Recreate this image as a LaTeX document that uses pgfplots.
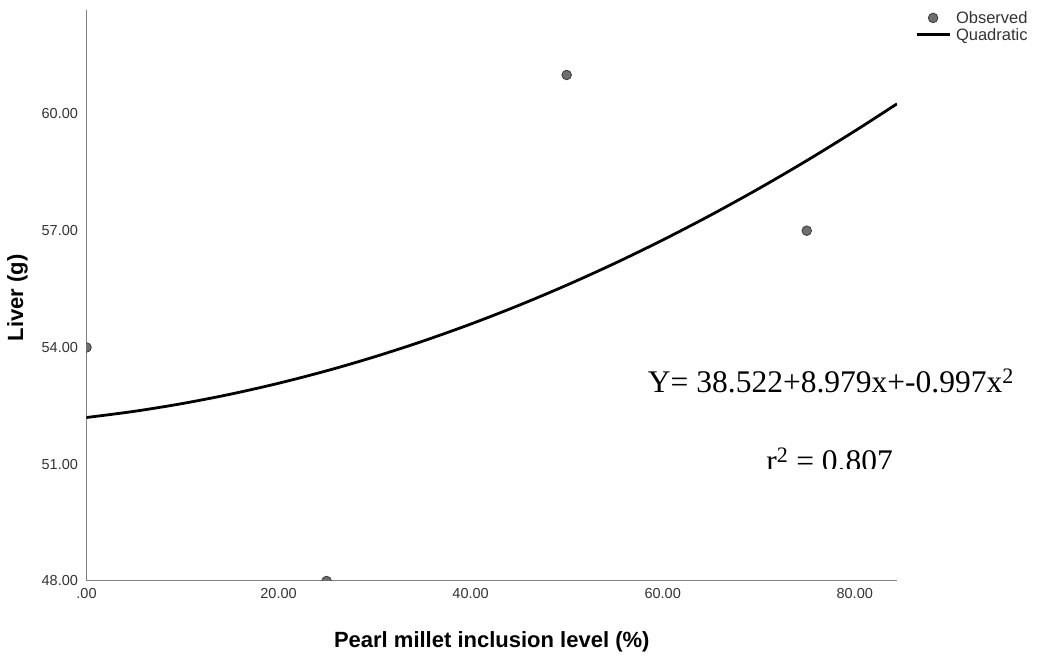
\documentclass[border=0pt]{standalone}
\usepackage{fontspec}
\setmainfont{Liberation Sans}
\newfontfamily\timesf{Liberation Serif}
\usepackage{pgfplots}
\pgfplotsset{compat=1.18}
\definecolor{axgray}{HTML}{808080}
\definecolor{ticktext}{HTML}{333333}
\definecolor{ptfill}{HTML}{6E6E6E}
\definecolor{ptedge}{HTML}{3A3A3A}
\begin{document}
\begin{tikzpicture}[x=1pt,y=1pt]
\useasboundingbox (0,0) rectangle (1037,659);
\begin{axis}[
  at={(86.5pt,78pt)}, anchor=south west,
  scale only axis, width=810.5pt, height=571pt,
  xmin=0, xmax=84.4, ymin=48, ymax=62.67,
  axis x line=bottom, axis y line=left,
  axis line style={-, draw=axgray, line width=1pt},
  xtick={0,20,40,60,80}, xticklabels={.00,20.00,40.00,60.00,80.00},
  ytick={48,51,54,57,60}, yticklabels={48.00,51.00,54.00,57.00,60.00},
  major tick length=0pt,
  tick label style={font=\fontsize{14.5}{17}\selectfont, text=ticktext},
  xticklabel style={yshift=-4pt},
  yticklabel style={xshift=-5pt},
  xlabel={\textbf{Pearl millet inclusion level (\%)}},
  ylabel={\textbf{Liver (g)}},
  label style={font=\fontsize{22}{26}\selectfont},
  xlabel style={at={(axis description cs:0.5,-0.1068)}, anchor=center},
  ylabel style={at={(axis description cs:-0.0851,0.496)}, anchor=center},
  clip marker paths=true,
  legend image code/.code={\draw[mark repeat=2,mark phase=2,#1] plot coordinates {(0pt,0pt) (16.5pt,0pt) (33pt,0pt)};},
  legend style={draw=none, fill=none, inner sep=0pt, anchor=north west,
    at={(rel axis cs:1.0222,1.0)}, font=\fontsize{16.5}{19}\selectfont,
    row sep=1.5pt, nodes={inner xsep=5pt, inner ysep=1pt, text=ticktext}},
  legend cell align=left,
]
\addplot[only marks, mark=*, mark size=4.8pt, mark options={fill=ptfill, draw=ptedge, line width=0.8pt}]
  coordinates {(0,54) (25,48) (50,61) (75,57)};
\addlegendentry{Observed}
\addplot[black, line width=2.8pt, smooth] coordinates {
  (0,52.20) (5,52.36) (10,52.56) (15,52.80) (20,53.08) (25,53.40) (30,53.76)
  (35,54.16) (40,54.60) (45,55.08) (50,55.60) (55,56.16) (60,56.76) (65,57.40)
  (70,58.08) (75,58.80) (80,59.56) (84.4,60.26)};
\addlegendentry{Quadratic}
\end{axis}
\node[anchor=base east, inner sep=0pt, font=\timesf\fontsize{31.5}{35}\selectfont] at (1014,266) {Y= 38.522+8.979x+-0.997x\textsuperscript{2}};
\begin{scope}
\clip (0,190) rectangle (1037,659);
\node[anchor=base east, inner sep=0pt, font=\timesf\fontsize{31.5}{35}\selectfont] at (893,187) {r\textsuperscript{2} = 0.807};
\end{scope}
\end{tikzpicture}
\end{document}
